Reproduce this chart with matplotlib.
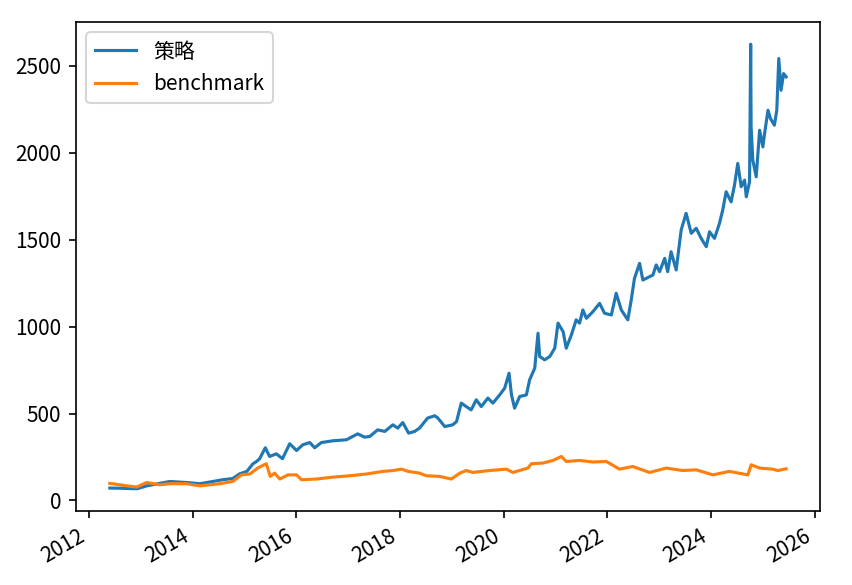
import matplotlib
matplotlib.use("Agg")
import matplotlib.pyplot as plt
import matplotlib.dates as mdates
import pandas as pd

plt.rcParams['font.family'] = ['Noto Sans CJK SC', 'DejaVu Sans']
plt.rcParams['axes.unicode_minus'] = False

# 策略净值
strategy_dates = [
    '2012-05-27', '2012-08-06', '2012-12-04', '2013-02-13', '2013-07-23', '2013-11-21',
    '2014-02-21', '2014-08-01', '2014-10-10', '2014-11-28', '2015-01-18', '2015-03-01',
    '2015-03-27', '2015-04-18', '2015-05-28', '2015-06-27', '2015-08-14', '2015-09-26',
    '2015-11-16', '2016-01-03', '2016-02-16', '2016-04-05', '2016-05-10', '2016-06-26',
    '2016-09-15', '2016-12-20', '2017-03-09', '2017-04-27', '2017-06-02', '2017-07-28',
    '2017-09-16', '2017-11-12', '2017-12-16', '2018-01-21', '2018-03-03', '2018-04-14',
    '2018-05-19', '2018-07-15', '2018-09-03', '2018-09-24', '2018-11-13', '2019-01-08',
    '2019-02-04', '2019-03-09', '2019-04-13', '2019-05-18', '2019-06-23', '2019-07-28',
    '2019-09-13', '2019-10-18', '2019-12-05', '2020-01-09', '2020-02-09', '2020-02-26',
    '2020-03-19', '2020-04-24', '2020-06-10', '2020-07-03', '2020-08-08', '2020-08-31',
    '2020-09-12', '2020-10-17', '2020-11-22', '2020-12-27', '2021-01-19', '2021-02-24',
    '2021-03-18', '2021-04-23', '2021-05-27', '2021-06-20', '2021-07-13', '2021-08-07',
    '2021-09-22', '2021-11-08', '2021-12-13', '2022-01-30', '2022-03-05', '2022-04-10',
    '2022-05-26', '2022-06-19', '2022-07-12', '2022-08-17', '2022-09-09', '2022-11-19',
    '2022-12-12', '2023-01-05', '2023-02-10', '2023-03-03', '2023-03-27', '2023-05-02',
    '2023-06-06', '2023-07-11', '2023-08-16', '2023-09-20', '2023-10-25', '2023-11-30',
    '2023-12-23', '2024-01-27', '2024-03-02', '2024-03-25', '2024-04-18', '2024-05-23',
    '2024-06-16', '2024-07-09', '2024-08-02', '2024-08-26', '2024-09-07', '2024-09-30',
    '2024-10-08', '2024-10-11', '2024-10-23', '2024-11-16', '2024-12-10', '2025-01-02',
    '2025-01-14', '2025-02-07', '2025-02-24', '2025-03-24', '2025-04-10', '2025-04-24',
    '2025-05-10', '2025-05-28', '2025-06-15',
]
strategy_values = [
    71, 70, 67, 84, 109, 103,
    96, 119, 126, 153, 167, 210,
    224, 240, 303, 253, 268, 240,
    326, 287, 320, 333, 303, 333,
    343, 349, 383, 364, 368, 406,
    397, 435, 416, 448, 387, 397,
    416, 474, 487, 475, 425, 435,
    454, 560, 540, 521, 579, 540,
    589, 560, 607, 646, 732, 607,
    531, 598, 607, 694, 761, 962,
    828, 809, 828, 876, 1020, 971,
    876, 952, 1039, 1020, 1096, 1048,
    1086, 1134, 1077, 1067, 1192, 1096,
    1039, 1153, 1278, 1364, 1268, 1297,
    1355, 1316, 1393, 1316, 1431, 1326,
    1556, 1652, 1537, 1566, 1508, 1460,
    1546, 1508, 1594, 1671, 1776, 1718,
    1814, 1939, 1805, 1843, 1747, 1833,
    2625, 2150, 1958, 1862, 2130, 2034,
    2111, 2245, 2198, 2159, 2245, 2543,
    2360, 2456, 2437,
]

# benchmark
bench_dates = [
    '2012-05-27', '2012-09-22', '2012-12-02', '2013-02-11', '2013-05-14', '2013-07-23',
    '2013-11-19', '2014-02-21', '2014-07-10', '2014-10-10', '2014-12-11', '2015-02-08',
    '2015-04-04', '2015-06-04', '2015-07-02', '2015-08-02', '2015-09-07', '2015-11-04',
    '2016-01-03', '2016-02-07', '2016-05-22', '2016-09-17', '2017-01-13', '2017-05-09',
    '2017-09-04', '2017-11-14', '2018-01-12', '2018-02-28', '2018-05-19', '2018-07-06',
    '2018-10-08', '2018-12-29', '2019-02-27', '2019-04-13', '2019-05-29', '2019-09-25',
    '2020-01-21', '2020-03-07', '2020-06-21', '2020-07-15', '2020-10-05', '2020-12-15',
    '2021-02-12', '2021-03-18', '2021-06-20', '2021-09-22', '2021-12-26', '2022-03-28',
    '2022-06-30', '2022-10-26', '2023-02-21', '2023-06-17', '2023-09-20', '2024-01-15',
    '2024-05-11', '2024-09-18', '2024-10-12', '2024-12-10', '2025-03-12', '2025-04-16',
    '2025-06-15',
]
bench_values = [
    98, 84, 77, 103, 90, 96,
    96, 84, 96, 109, 147, 152,
    186, 211, 138, 157, 123, 147,
    147, 119, 123, 134, 142, 152,
    167, 172, 180, 167, 157, 142,
    138, 123, 157, 172, 161, 172,
    180, 161, 186, 211, 215, 230,
    253, 224, 230, 221, 224, 180,
    195, 161, 186, 172, 176, 147,
    167, 147, 205, 186, 180, 172,
    182,
]

fig = plt.figure(figsize=(5.68, 3.9), dpi=150)
ax = fig.add_axes([0.0892, 0.1265, 0.8732, 0.8359])

ax.plot(pd.to_datetime(strategy_dates), strategy_values, label='策略')
ax.plot(pd.to_datetime(bench_dates), bench_values, label='benchmark')

ax.xaxis.set_major_locator(mdates.YearLocator(2))
ax.xaxis.set_major_formatter(mdates.DateFormatter('%Y'))
plt.setp(ax.get_xticklabels(), rotation=30, ha='right')

ax.legend(loc='upper left')
fig.savefig('out.png', dpi=150)
